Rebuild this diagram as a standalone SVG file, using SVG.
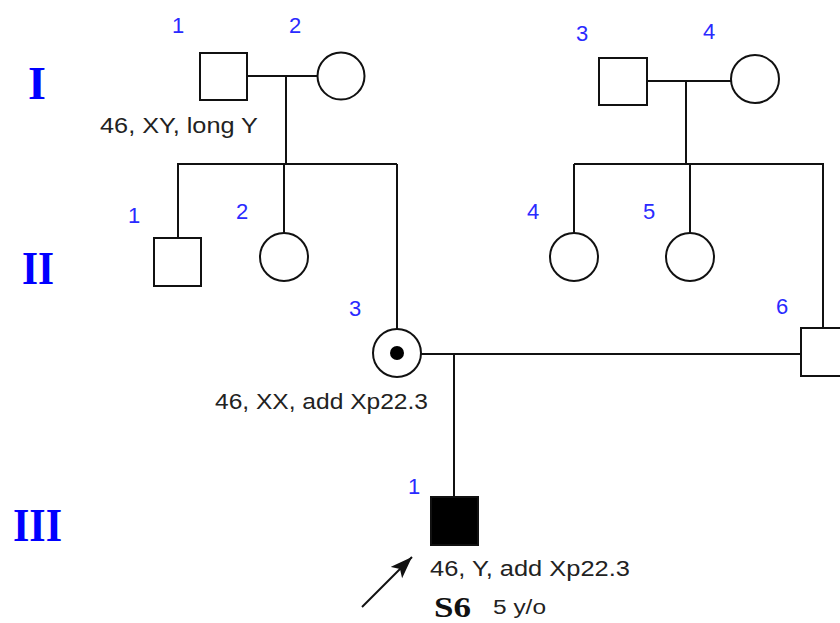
<svg xmlns="http://www.w3.org/2000/svg" width="840" height="623" viewBox="0 0 840 623">
<defs>
<style>
.sym{fill:#fff;stroke:#111;stroke-width:2}
.aff{fill:#000;stroke:#111;stroke-width:2}
.ln{fill:none;stroke:#111;stroke-width:2}
.num{font-family:"Liberation Sans",Arial,sans-serif;font-size:22px;fill:#2a2aff;text-anchor:middle}
.gen{font-family:"Liberation Serif","Times New Roman",serif;font-size:46px;font-weight:bold;fill:#0000ff;text-anchor:middle}
.lab{font-family:"Liberation Sans",Arial,sans-serif;font-size:22px;fill:#222}
</style>
<marker id="ah" markerUnits="userSpaceOnUse" markerWidth="26" markerHeight="20" refX="22" refY="8" orient="auto">
<path d="M0,0 L22,8 L0,16 L5,8 z" fill="#111"/>
</marker>
</defs>
<rect width="840" height="623" fill="#fff"/>

<g id="generations">
<text class="gen" x="37" y="99">I</text>
<text class="gen" x="38" y="284" textLength="32" lengthAdjust="spacingAndGlyphs">II</text>
<text class="gen" x="37.5" y="541" textLength="49" lengthAdjust="spacingAndGlyphs">III</text>
</g>

<g id="connectors">
<path class="ln" d="M247,76 H318 M286,76 V164 M177,164 H397 M178,164 V238 M284,164 V233 M397,164 V329"/>
<path class="ln" d="M647,81 H731 M686,81 V164 M574,164 H824 M574,164 V233 M690,164 V233 M823,164 V328"/>
<path class="ln" d="M421,354 H801 M454,354 V497"/>
<line class="ln" x1="362" y1="607" x2="412" y2="557" marker-end="url(#ah)"/>
</g>

<g id="I-1">
<rect class="sym" x="200" y="53" width="47" height="47"/>
<text class="num" x="178" y="33">1</text>
<text class="lab" x="100" y="133" textLength="158" lengthAdjust="spacingAndGlyphs">46, XY, long Y</text>
</g>
<g id="I-2">
<circle class="sym" cx="341" cy="76" r="23.5"/>
<text class="num" x="295" y="33">2</text>
</g>
<g id="I-3">
<rect class="sym" x="599" y="58" width="48" height="47"/>
<text class="num" x="582" y="41">3</text>
</g>
<g id="I-4">
<circle class="sym" cx="755" cy="79" r="24"/>
<text class="num" x="709" y="39">4</text>
</g>

<g id="II-1">
<rect class="sym" x="154" y="238" width="47" height="48"/>
<text class="num" x="134" y="223">1</text>
</g>
<g id="II-2">
<circle class="sym" cx="284" cy="257" r="24"/>
<text class="num" x="242" y="219">2</text>
</g>
<g id="II-3">
<circle class="sym" cx="397" cy="353" r="24"/>
<circle cx="397" cy="353" r="7" fill="#000"/>
<text class="num" x="355" y="316">3</text>
<text class="lab" x="215" y="409" textLength="213" lengthAdjust="spacingAndGlyphs">46, XX, add Xp22.3</text>
</g>
<g id="II-4">
<circle class="sym" cx="574" cy="257" r="24"/>
<text class="num" x="533" y="219">4</text>
</g>
<g id="II-5">
<circle class="sym" cx="690" cy="257" r="24"/>
<text class="num" x="649" y="219">5</text>
</g>
<g id="II-6">
<rect class="sym" x="801" y="328" width="47" height="48"/>
<text class="num" x="782" y="314">6</text>
</g>

<g id="III-1">
<rect class="aff" x="431" y="497" width="47" height="48"/>
<text class="num" x="414" y="494">1</text>
<text class="lab" x="430" y="576" textLength="200" lengthAdjust="spacingAndGlyphs">46, Y, add Xp22.3</text>
<text x="434" y="617" font-family="'Liberation Serif','Times New Roman',serif" font-size="29" font-weight="bold" fill="#111" textLength="37" lengthAdjust="spacingAndGlyphs">S6</text>
<text class="lab" x="493" y="614" style="font-size:20px" textLength="53" lengthAdjust="spacingAndGlyphs">5 y/o</text>
</g>
</svg>
